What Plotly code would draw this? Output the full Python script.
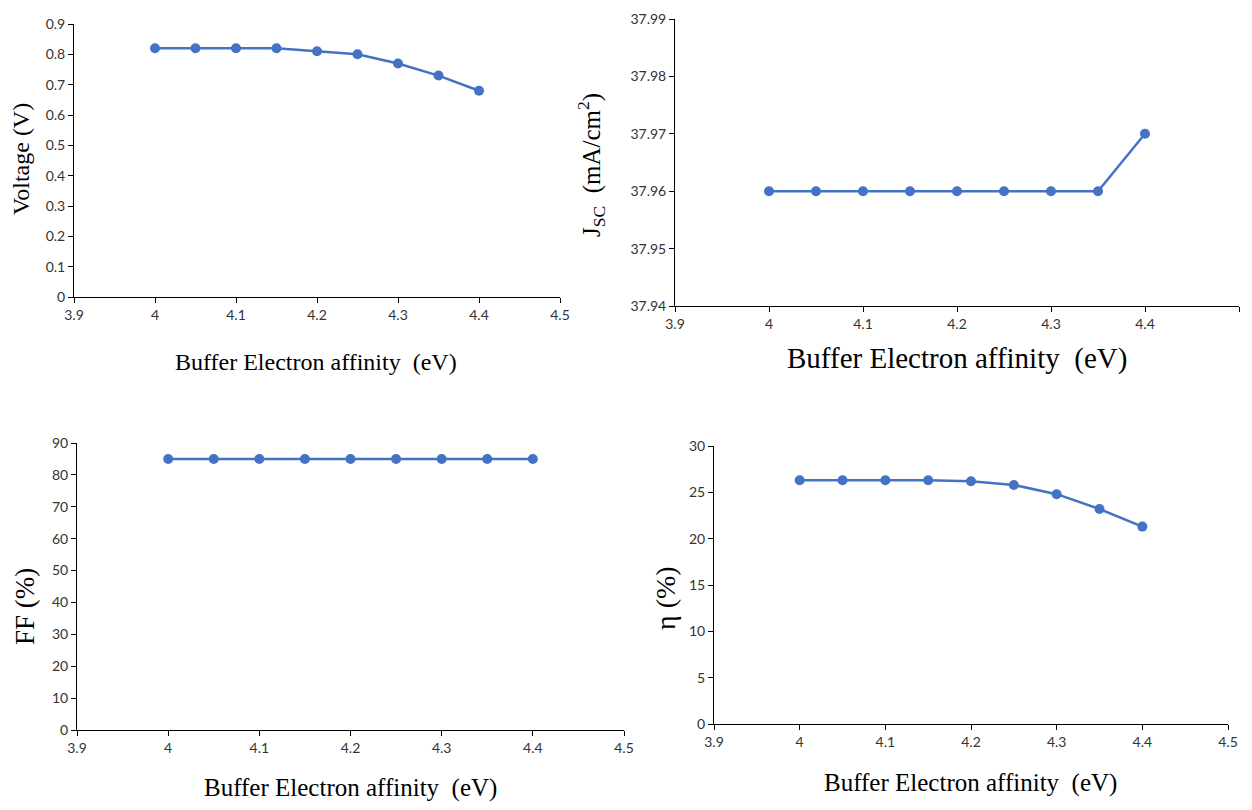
import plotly.graph_objects as go

W, H = 1236, 794   # page adds an 8px body margin around the figure
OFF = 8

x_affinity = [4.0, 4.05, 4.1, 4.15, 4.2, 4.25, 4.3, 4.35, 4.4]
voc = [0.82, 0.82, 0.82, 0.82, 0.81, 0.80, 0.77, 0.73, 0.68]
jsc = [37.96, 37.96, 37.96, 37.96, 37.96, 37.96, 37.96, 37.96, 37.97]
ff = [85, 85, 85, 85, 85, 85, 85, 85, 85]
eta = [26.3, 26.3, 26.3, 26.3, 26.2, 25.8, 24.8, 23.2, 21.3]

x_title = "Buffer Electron affinity  (eV)"
y_titles = ["Voltage (V)", "J<sub>SC</sub>  (mA/cm<sup>2</sup>)", "FF (%)", "\u03b7 (%)"]

BLUE = "#4472C4"
SERIF = "Liberation Serif, Times New Roman, serif"
SANS = "Lato, Open Sans, sans-serif"


def px(x):
    return (x - OFF) / W


def py(y):
    return 1 - (y - OFF) / H


# panel boxes in screen pixels: left, right, top, bottom
boxes = [
    (74, 560, 24, 297),
    (675, 1239, 19, 306),
    (77, 624, 443, 730),
    (714, 1228, 446, 724),
]
yranges = [(0, 0.9, 0.1), (37.94, 37.99, 0.01), (0, 90, 10), (0, 30, 5)]
series = [voc, jsc, ff, eta]

fig = go.Figure()
layout = dict(
    width=W, height=H, margin=dict(l=0, r=0, t=0, b=0, autoexpand=False),
    paper_bgcolor="white", plot_bgcolor="white", showlegend=False,
)

for i, (box, yr, ys) in enumerate(zip(boxes, yranges, series)):
    n = "" if i == 0 else str(i + 1)
    fig.add_trace(go.Scatter(
        x=x_affinity, y=ys, mode="lines+markers",
        line=dict(color=BLUE, width=2.5),
        marker=dict(color=BLUE, size=10),
        xaxis="x" + n, yaxis="y" + n,
    ))
    l, r, t, b = box
    axis_common = dict(
        showline=True, linecolor="#000000", linewidth=1,
        ticks="outside", ticklen=5, tickcolor="#000000", tickwidth=1,
        showgrid=False, zeroline=False, automargin=False,
        tickfont=dict(family=SANS, size=14, color="#333333"),
        fixedrange=True,
    )
    layout["xaxis" + n] = dict(
        domain=[px(l), px(r)], range=[3.9, 4.5], tick0=3.9, dtick=0.1,
        anchor="y" + n, **axis_common,
    )
    layout["yaxis" + n] = dict(
        domain=[py(b), py(t)], range=[yr[0], yr[1]], tick0=yr[0], dtick=yr[2],
        anchor="x" + n, **axis_common,
    )

fig.update_layout(**layout)

# axis titles
xt_pos = [(316, 362, 24), (957, 358, 29), (350, 788, 25), (970, 783, 25)]
yt_pos = [(21, 159, 24), (591, 165, 25), (25, 607, 27), (665, 598, 28)]
for (xx, yy, fs) in xt_pos:
    fig.add_annotation(x=px(xx), y=py(yy), xref="paper", yref="paper",
                       text=x_title, showarrow=False,
                       font=dict(family=SERIF, size=fs, color="#000000"),
                       xanchor="center", yanchor="middle")
for (xx, yy, fs), t in zip(yt_pos, y_titles):
    fig.add_annotation(x=px(xx), y=py(yy), xref="paper", yref="paper",
                       text=t, showarrow=False, textangle=-90,
                       font=dict(family=SERIF, size=fs, color="#000000"),
                       xanchor="center", yanchor="middle")

fig.write_html("out.html")
